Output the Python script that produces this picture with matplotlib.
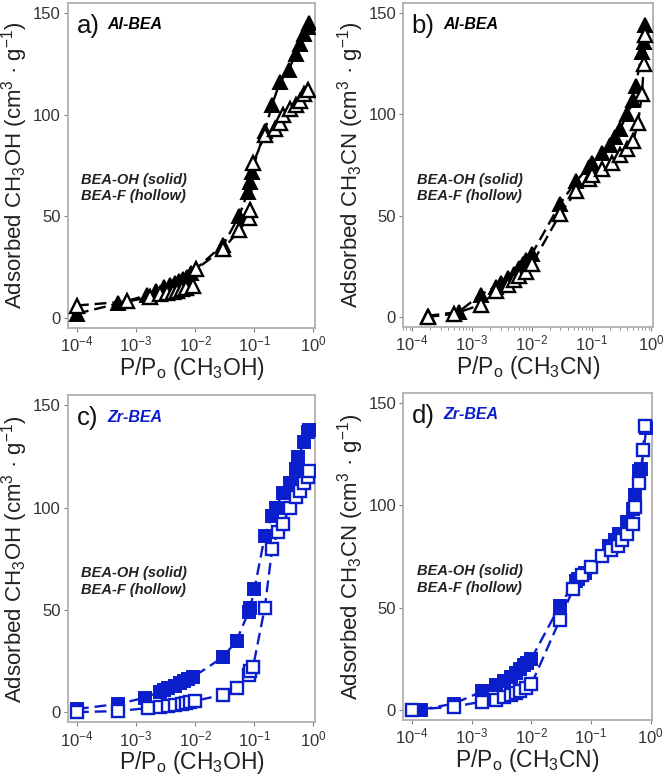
import matplotlib
matplotlib.use("Agg")
import matplotlib.pyplot as plt
import numpy as np

plt.rcParams['font.family'] = ['Liberation Sans', 'DejaVu Sans']
plt.rcParams['mathtext.fontset'] = 'custom'
plt.rcParams['mathtext.rm'] = 'Liberation Sans'
plt.rcParams['mathtext.it'] = 'Liberation Sans:italic'

BLACK = '#000000'
BLUE = '#0a1ecc'

# ---- Panel a: Al-BEA, CH3OH ----
a_oh_x = [1e-4, 5e-4, 1.5e-3, 2.2e-3, 3e-3, 3.7e-3, 4.5e-3, 5.3e-3, 6.2e-3, 7.2e-3, 8.5e-3,
          0.03, 0.055, 0.078, 0.083, 0.09, 0.15, 0.2, 0.27, 0.38, 0.5, 0.6, 0.7, 0.8, 0.85]
a_oh_y = [2, 7, 11, 13, 15, 16, 17, 18, 19, 20, 22,
          36, 50, 62, 67, 72, 92, 105, 116, 122, 130, 135, 140, 143, 145]
a_f_x = [1e-4, 7e-4, 1.7e-3, 2.5e-3, 3.3e-3, 4.2e-3, 5e-3, 6e-3, 7e-3, 9e-3, 0.0105,
         0.03, 0.055, 0.08, 0.085, 0.095, 0.15, 0.22, 0.27, 0.3, 0.4, 0.5, 0.6, 0.7, 0.8]
a_f_y = [6, 8, 10, 11.5, 12, 12.5, 13, 14, 14.5, 15.5, 24,
         34, 43, 49, 53, 76, 90, 93, 96, 100, 103, 105, 107, 110, 112]

# ---- Panel b: Al-BEA, CH3CN ----
b_oh_x = [1.8e-4, 6e-4, 1.4e-3, 2.5e-3, 3e-3, 4e-3, 5e-3, 6e-3, 7e-3, 8e-3, 1e-2,
          0.03, 0.055, 0.09, 0.1, 0.15, 0.2, 0.25, 0.3, 0.4, 0.5, 0.55, 0.7, 0.75, 0.8]
b_oh_y = [0.5, 2.5, 11, 15, 17, 19, 21, 24, 26, 28, 31,
          56, 67, 74, 76, 81, 85, 89, 93, 100, 107, 114, 131, 136, 144]
b_f_x = [1.8e-4, 5e-4, 1.4e-3, 2.5e-3, 4e-3, 5e-3, 6e-3, 8e-3, 1e-2,
         0.03, 0.055, 0.09, 0.1, 0.15, 0.22, 0.3, 0.4, 0.5, 0.6, 0.7, 0.75, 0.8]
b_f_y = [0, 1.5, 6, 13, 16, 18, 20, 22, 26,
         51, 62, 68, 70, 73, 76, 80, 83, 87, 96, 110, 125, 139]

# ---- Panel c: Zr-BEA, CH3OH ----
c_oh_x = [1e-4, 5e-4, 1.4e-3, 2.5e-3, 3e-3, 3.5e-3, 4.5e-3, 5.5e-3, 6.5e-3, 7.5e-3, 9e-3,
          0.03, 0.05, 0.08, 0.085, 0.1, 0.15, 0.2, 0.23, 0.3, 0.4, 0.5, 0.55, 0.7, 0.8, 0.85]
c_oh_y = [1.5, 4, 7, 10, 11, 12, 13, 14, 15, 16, 17,
          27, 35, 49, 51, 60, 86, 96, 100, 107, 112, 119, 125, 132, 137, 138]
c_f_x = [1e-4, 5e-4, 1.6e-3, 2.5e-3, 3.5e-3, 4.5e-3, 6e-3, 7e-3, 8e-3, 1e-2,
         0.03, 0.05, 0.08, 0.085, 0.095, 0.15, 0.2, 0.25, 0.3, 0.4, 0.5, 0.6, 0.7, 0.8, 0.85]
c_f_y = [0, 0.5, 2, 2.5, 3, 3.5, 4, 4.5, 5, 5.5,
         8.5, 12, 18, 20, 22, 51, 80, 88, 92, 100, 105, 108, 112, 115, 118]

# ---- Panel d: Zr-BEA, CH3CN ----
d_oh_x = [1.4e-4, 5e-4, 1.5e-3, 2.5e-3, 3.5e-3, 4.5e-3, 5.5e-3, 6.5e-3, 7.5e-3, 8.5e-3, 1e-2,
          0.03, 0.055, 0.06, 0.08, 0.1, 0.2, 0.25, 0.3, 0.4, 0.5, 0.55, 0.65, 0.7, 0.85]
d_oh_y = [0, 3, 9, 12, 14, 16, 18, 20, 22, 23, 25,
          51, 63, 64, 67, 70, 80, 83, 86, 92, 98, 105, 117, 118, 138]
d_f_x = [1e-4, 5e-4, 1.5e-3, 2.5e-3, 3.5e-3, 4.5e-3, 5.5e-3, 6.5e-3, 8e-3, 1e-2,
         0.03, 0.05, 0.07, 0.1, 0.15, 0.22, 0.28, 0.33, 0.4, 0.5, 0.55, 0.65, 0.75, 0.8]
d_f_y = [0, 1.5, 4, 5, 6, 7, 8, 9, 10.5, 12.5,
         44, 59, 66, 70, 75, 78, 80, 83, 86, 91, 99, 111, 127, 139]

panels = [
    dict(label='a)', mat='Al-BEA', color=BLACK, marker='^', probe='CH$_3$OH',
         solid=(a_oh_x, a_oh_y), hollow=(a_f_x, a_f_y)),
    dict(label='b)', mat='Al-BEA', color=BLACK, marker='^', probe='CH$_3$CN',
         solid=(b_oh_x, b_oh_y), hollow=(b_f_x, b_f_y)),
    dict(label='c)', mat='Zr-BEA', color=BLUE, marker='s', probe='CH$_3$OH',
         solid=(c_oh_x, c_oh_y), hollow=(c_f_x, c_f_y)),
    dict(label='d)', mat='Zr-BEA', color=BLUE, marker='s', probe='CH$_3$CN',
         solid=(d_oh_x, d_oh_y), hollow=(d_f_x, d_f_y)),
]

fig = plt.figure(figsize=(6.65, 7.75), dpi=100)
positions = [
    [0.102, 0.577, 0.372, 0.419],
    [0.606, 0.578, 0.376, 0.418],
    [0.102, 0.068, 0.372, 0.422],
    [0.606, 0.071, 0.375, 0.422],
]

for p, pos in zip(panels, positions):
    ax = fig.add_axes(pos)
    c = p['color']
    ms = 9.5 if p['marker'] == '^' else 8.8
    ax.plot(p['solid'][0], p['solid'][1], linestyle=(0, (5, 2.5)), color=c, lw=1.7,
            marker=p['marker'], ms=ms, mfc=c, mec=c, mew=1.4, zorder=3)
    ax.plot(p['hollow'][0], p['hollow'][1], linestyle=(0, (5, 2.5)), color=c, lw=1.7,
            marker=p['marker'], ms=ms, mfc='white', mec=c, mew=1.7, zorder=3)
    ax.set_xscale('log')
    ax.set_xlim(7e-5, 1.07)
    ax.set_ylim(-5, 155)
    ax.set_yticks([0, 50, 100, 150])
    ax.set_xticks([1e-4, 1e-3, 1e-2, 1e-1, 1e0])
    ax.set_xticklabels(['10$^{-4}$', '10$^{-3}$', '10$^{-2}$', '10$^{-1}$', '10$^{0}$'])
    for s in ax.spines.values():
        s.set_color('#b0b0b0')
        s.set_linewidth(1.3)
    ax.tick_params(axis='both', which='major', direction='out', length=3, width=0.8,
                   color='#808080', labelsize=12, labelcolor='#333333', pad=2)
    ax.tick_params(axis='x', which='minor', direction='out', length=2, width=0.6,
                   color='#808080')
    ax.set_xlabel('P/P$_\\mathrm{o}$ (' + p['probe'] + ')', fontsize=16.5,
                  color='#222222', labelpad=0)
    ax.set_ylabel('Adsorbed ' + p['probe'] + ' (cm$^3$ · g$^{-1}$)', fontsize=16,
                  color='#222222', labelpad=2)
    ax.text(0.035, 0.93, p['label'], transform=ax.transAxes, fontsize=18.5,
            color='#111111', va='center', ha='left')
    ax.text(0.16, 0.933, p['mat'], transform=ax.transAxes, fontsize=11.5,
            fontweight='bold', fontstyle='italic', color=c, va='center', ha='left')
    ax.text(0.055, 0.455, 'BEA-OH (solid)', transform=ax.transAxes, fontsize=10.5,
            fontweight='bold', fontstyle='italic', color='#222222', va='center')
    ax.text(0.055, 0.405, 'BEA-F (hollow)', transform=ax.transAxes, fontsize=10.5,
            fontweight='bold', fontstyle='italic', color='#222222', va='center')

fig.savefig('out.png', dpi=100)
